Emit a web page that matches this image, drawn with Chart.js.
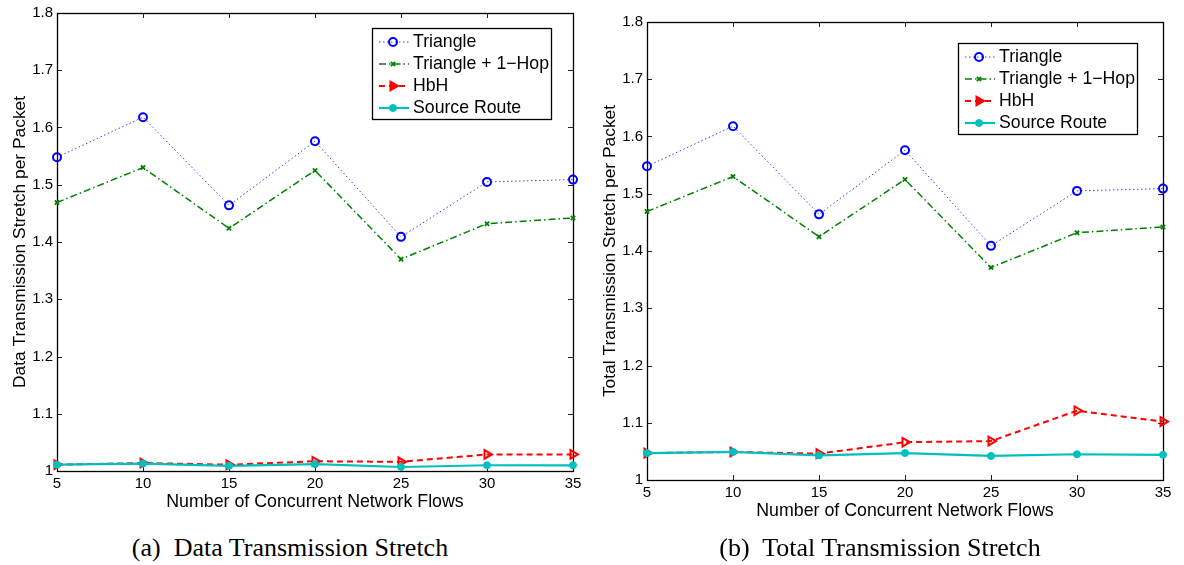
<!DOCTYPE html>
<html>
<head>
<meta charset="utf-8">
<script src="https://cdn.jsdelivr.net/npm/chart.js@4"></script>
<style>
  html, body { margin: 0; padding: 0; background: #fff; }
  body { width: 1184px; height: 565px; position: relative; overflow: hidden; }
  .cv { position: absolute; }
  .cap { position: absolute; width: 400px; text-align: center; white-space: pre;
         font-family: 'Liberation Serif', 'Times New Roman', serif; font-size: 26px; line-height: 30px; color: #000; }
</style>
</head>
<body>
<canvas id="c1" class="cv" width="592" height="520" style="left:0px;top:0px"></canvas>
<canvas id="c2" class="cv" width="592" height="520" style="left:590px;top:9px"></canvas>
<div class="cap" style="left:90px;top:533px">(a)  Data Transmission Stretch</div>
<div class="cap" style="left:680px;top:533px">(b)  Total Transmission Stretch</div>
<script>
// ---- data ----
const flows = [5, 10, 15, 20, 25, 30, 35];
const yTickValues = [1, 1.1, 1.2, 1.3, 1.4, 1.5, 1.6, 1.7, 1.8];
const seriesNames = ['Triangle', 'Triangle + 1\u2212Hop', 'HbH', 'Source Route'];

const triangleData = [1.548, 1.618, 1.464, 1.576, 1.409, 1.505, 1.509];
const triangle1HopData = [1.469, 1.530, 1.424, 1.525, 1.370, 1.432, 1.442];
const hbhData = [1.011, 1.014, 1.011, 1.017, 1.016, 1.029, 1.029];
const sourceRouteData = [1.011, 1.013, 1.009, 1.012, 1.007, 1.010, 1.010];

const triangleTotal = [1.548, 1.618, 1.464, 1.576, 1.409, 1.505, 1.509];
const triangle1HopTotal = [1.469, 1.530, 1.425, 1.525, 1.371, 1.432, 1.442];
const hbhTotal = [1.047, 1.049, 1.046, 1.066, 1.068, 1.121, 1.102];
const sourceRouteTotal = [1.047, 1.049, 1.043, 1.047, 1.042, 1.045, 1.044];

const SANS = "'Liberation Sans', Arial, Helvetica, sans-serif";
Chart.defaults.font.family = SANS;
Chart.defaults.color = '#000';

function pts(vals) { return flows.map((x, i) => ({ x: x, y: vals[i] })); }

const framePlugin = {
  id: 'frame',
  beforeDatasetsDraw(chart) {
    const { ctx, chartArea: a, scales } = chart;
    const xs = scales.x, ys = scales.y;
    ctx.save();
    ctx.strokeStyle = '#222';
    ctx.lineWidth = 1;
    ctx.beginPath();
    const L = 5;
    xs.ticks.forEach(t => {
      const p = Math.round(xs.getPixelForValue(t.value)) + 0.5;
      ctx.moveTo(p, a.bottom); ctx.lineTo(p, a.bottom - L);
      ctx.moveTo(p, a.top); ctx.lineTo(p, a.top + L);
    });
    ys.ticks.forEach(t => {
      const p = Math.round(ys.getPixelForValue(t.value)) + 0.5;
      ctx.moveTo(a.left, p); ctx.lineTo(a.left + L, p);
      ctx.moveTo(a.right, p); ctx.lineTo(a.right - L, p);
    });
    ctx.stroke();
    ctx.strokeStyle = '#000';
    ctx.lineWidth = 1.3;
    ctx.strokeRect(Math.round(a.left) + 0.5, Math.round(a.top) + 0.5,
                   Math.round(a.right - a.left), Math.round(a.bottom - a.top));
    ctx.restore();
  }
};

function drawMarker(ctx, ds, x, y) {
  const o = { pointStyle: ds.pointStyle, rotation: ds.pointRotation || 0,
              radius: ds.pointRadius, borderWidth: ds.pointBorderWidth };
  ctx.fillStyle = ds.legendFill || ds.pointBackgroundColor;
  ctx.strokeStyle = ds.pointBorderColor;
  ctx.lineWidth = ds.pointBorderWidth;
  if (Chart.helpers && Chart.helpers.drawPoint) {
    Chart.helpers.drawPoint(ctx, o, x, y);
  } else {
    ctx.beginPath(); ctx.arc(x, y, o.radius, 0, Math.PI * 2); ctx.fill(); ctx.stroke();
  }
}

const legendPlugin = {
  id: 'mlegend',
  afterDatasetsDraw(chart, args, opts) {
    const ctx = chart.ctx;
    const { x, y, w, h } = opts;
    ctx.save();
    ctx.fillStyle = '#fff';
    ctx.fillRect(x, y, w, h);
    ctx.strokeStyle = '#000';
    ctx.lineWidth = 1.3;
    ctx.strokeRect(x + 0.5, y + 0.5, w, h);
    chart.data.datasets.forEach((ds, i) => {
      const cy = y + 14 + i * 22;
      ctx.save();
      ctx.strokeStyle = ds.borderColor;
      ctx.lineWidth = ds.borderWidth;
      ctx.setLineDash(ds.borderDash || []);
      ctx.beginPath(); ctx.moveTo(x + 7, cy); ctx.lineTo(x + 37, cy); ctx.stroke();
      ctx.setLineDash([]);
      drawMarker(ctx, ds, x + 21, cy);
      ctx.restore();
      ctx.fillStyle = '#000';
      ctx.font = '17.7px ' + SANS;
      ctx.textBaseline = 'middle';
      ctx.textAlign = 'left';
      ctx.fillText(ds.label, x + 41, cy);
    });
    ctx.restore();
  }
};

function makeChart(id, triVals, tri1Vals, hbhVals, srVals, yTitle, legendPos) {
  const datasets = [
    { label: seriesNames[0], data: pts(triVals), borderColor: '#3a3aff', borderWidth: 1,
      borderDash: [1.5, 2.5], pointStyle: 'circle', pointRadius: 4, pointBorderWidth: 2,
      pointBorderColor: '#0000ff', pointBackgroundColor: 'rgba(255,255,255,0)', order: 4 },
    { label: seriesNames[1], data: pts(tri1Vals), borderColor: '#008000', borderWidth: 1.5,
      borderDash: [7, 3, 1.5, 3], pointStyle: 'crossRot', pointRadius: 3, pointBorderWidth: 1.8,
      pointBorderColor: '#008000', pointBackgroundColor: '#008000', order: 3 },
    { label: seriesNames[2], data: pts(hbhVals), borderColor: '#ff0000', borderWidth: 2,
      borderDash: [6, 4], pointStyle: 'triangle', pointRotation: 90, pointRadius: 5, pointBorderWidth: 2,
      pointBorderColor: '#ff0000', pointBackgroundColor: 'rgba(255,255,255,0)', legendFill: '#ff0000', order: 2 },
    { label: seriesNames[3], data: pts(srVals), borderColor: '#00bfbf', borderWidth: 2.2,
      borderDash: [], pointStyle: 'circle', pointRadius: 3.5, pointBorderWidth: 1,
      pointBorderColor: '#00bfbf', pointBackgroundColor: '#00bfbf', order: 1 }
  ];
  datasets.forEach(d => { d.clip = false; d.tension = 0; d.fill = false; d.pointHoverRadius = d.pointRadius; });
  return new Chart(document.getElementById(id), {
    type: 'line',
    data: { datasets: datasets },
    options: {
      responsive: false, animation: false, devicePixelRatio: 1,
      layout: { padding: { left: 0, top: 12, right: 19, bottom: 0 } },
      plugins: { legend: { display: false }, tooltip: { enabled: false }, mlegend: legendPos },
      scales: {
        x: {
          type: 'linear', min: 5, max: 35,
          afterBuildTicks: s => { s.ticks = flows.map(v => ({ value: v })); },
          afterFit: s => { s.height = 49; },
          grid: { display: false, drawTicks: false, tickLength: 0 }, border: { display: false },
          ticks: { font: { size: 15 }, padding: 4, color: '#000', maxRotation: 0, autoSkip: false },
          title: { display: true, text: 'Number of Concurrent Network Flows', font: { size: 17.8 },
                   padding: { top: 0, bottom: 7 }, color: '#000' }
        },
        y: {
          type: 'linear', min: 1, max: 1.8,
          afterBuildTicks: s => { s.ticks = yTickValues.map(v => ({ value: v })); },
          afterFit: s => { s.width = 57; },
          grid: { display: false, drawTicks: false, tickLength: 0 }, border: { display: false },
          ticks: { font: { size: 15 }, padding: 4, color: '#000',
                   callback: v => String(+Number(v).toFixed(1)) },
          title: { display: true, text: yTitle, font: { size: 17.4 },
                   padding: { top: 10, bottom: 0 }, color: '#000' }
        }
      }
    },
    plugins: [framePlugin, legendPlugin]
  });
}

makeChart('c1', triangleData, triangle1HopData, hbhData, sourceRouteData,
          'Data Transmission Stretch per Packet', { x: 372, y: 28, w: 179, h: 91 });
makeChart('c2', triangleTotal, triangle1HopTotal, hbhTotal, sourceRouteTotal,
          'Total Transmission Stretch per Packet', { x: 368, y: 34, w: 179, h: 91 });
</script>
</body>
</html>
